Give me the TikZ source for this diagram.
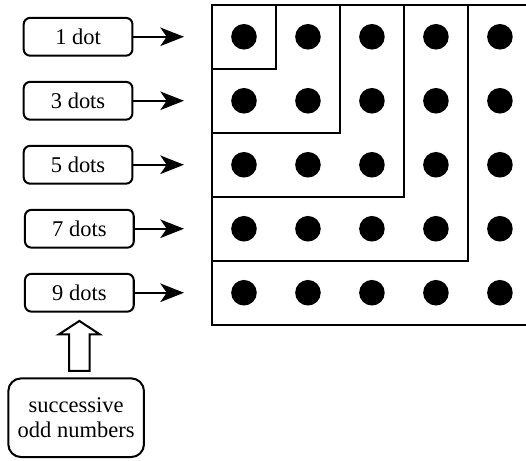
\documentclass[tikz,border=0pt]{standalone}
\usepackage{fontspec}
\setmainfont{Liberation Serif}
\usetikzlibrary{arrows.meta}
\usetikzlibrary{calc}

\begin{document}
\begin{tikzpicture}[line width=0.9pt,
        countbox/.style={draw,rounded corners=1mm,minimum width=1.7cm,minimum height=0.59cm,inner sep=0pt},
        pointer/.style={arrows=-{Stealth[length=3.7mm,width=2.9mm,inset=1mm]}}]

            \useasboundingbox (0,0) rectangle (8.22,7.2);

            %\draw [help lines] (0,0) grid (8,7);

            \path   (1.22,6.625) node (one)   [countbox] {1 dot}
                    (1.22,5.625) node (three) [countbox] {3 dots}
                    (1.22,4.625) node (five)  [countbox] {5 dots}
                    (1.24,3.625) node (seven) [countbox] {7 dots}
                    (1.24,2.625) node (nine)  [countbox] {9 dots}
                    (1.19,0.672) node (odd) [draw,rounded corners=2mm,minimum width=2.12cm,minimum height=1.23cm,inner sep=0pt,align=center] {successive\\[-1pt]odd numbers};

            \coordinate (t1) at (2.875,6.625);
            \coordinate (t3) at (2.875,5.625);
            \coordinate (t5) at (2.875,4.625);
            \coordinate (t7) at (2.875,3.625);
            \coordinate (t9) at (2.875,2.625);

            \draw[pointer] (one) -- (t1);
            \draw[pointer] (three) -- (t3);
            \draw[pointer] (five) -- (t5);
            \draw[pointer] (seven) -- (t7);
            \draw[pointer] (nine) -- (t9);

            % hollow arrow up to the last box
            \coordinate (tip)  at ($(nine.south)+(0,-0.13)$);
            \coordinate (foot) at ($(odd.north)+(0,0.1)$);
            \draw (tip) -- ++(-0.32,-0.21) -- ++(0.16,0) |- ($(tip |- foot)+(0.16,0)$)
                  |- ($(tip)+(0.32,-0.21)$) -- cycle;

            % square of dots
            \draw (3.3125,2.125) rectangle (8.3125,7.125);
            \foreach \k in {1,...,4}
                \draw (3.3125,7.125-\k) -| (3.3125+\k,7.125);
            \foreach \i in {0,...,4}
                \foreach \j in {0,...,4}
                    \fill (3.8125+\i,6.625-\j) circle (0.2);
        \end{tikzpicture}
\end{document}
